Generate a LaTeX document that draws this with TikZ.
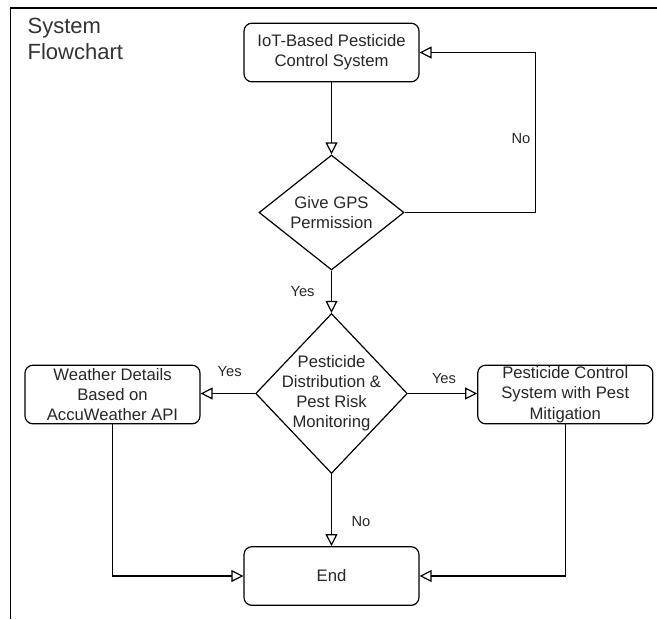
\documentclass[tikz,border=0pt]{standalone}
\usepackage{fontspec}
\setmainfont{Liberation Sans}
\usetikzlibrary{shapes.geometric,arrows.meta}
\tikzset{every picture/.style={line width=0.9pt}}

\begin{document}
\begin{tikzpicture}[x=0.75pt,y=0.75pt,yscale=-1,xscale=1,
  procbox/.style={draw, rounded corners=6pt, minimum width=131.25pt, minimum height=44pt, inner sep=0pt, align=center, font=\fontsize{12.5}{15.2}\selectfont, text=black!85},
  decision/.style={draw, diamond, inner sep=0pt, align=center, font=\fontsize{12.5}{15}\selectfont, text=black!85},
  flow/.style={-{Triangle[open,length=9pt,width=9pt]}},
  lbl/.style={font=\fontsize{11}{13}\selectfont, text=black!85}]
\useasboundingbox (0,0) rectangle (657,619);

%frame
\draw [line width=1pt] (10.5,619) -- (10.5,8) -- (657,8) ;

\draw (27,38.5) node (title) [anchor=west, inner sep=0pt, align=left, font=\fontsize{16.5}{19.5}\selectfont, text=black!80] {System\\Flowchart};

\draw (331.5,52.5) node (iot) [procbox] {IoT-Based Pesticide\\Control System};
\draw (331.5,212.5) node (gps) [decision, minimum width=108.75pt, minimum height=86.25pt] {Give GPS\\Permission};
\draw (331.5,393.5) node (dist) [decision, minimum width=113.75pt, minimum height=120pt, label={[align=center, font=\fontsize{12.5}{15}\selectfont, text=black!85]center:Pesticide\\Distribution \&\\Pest Risk\\Monitoring}] {};
\draw (112.5,394.5) node (weather) [procbox] {Weather Details\\Based on\\AccuWeather API};
\draw (565.25,394.5) node (control) [procbox] {Pesticide Control\\System with Pest\\Mitigation};
\draw (331.5,576) node (end) [procbox] {End};

\coordinate (loop) at (535.5,130);

\draw [flow] (iot) -- (gps) ;
\draw [flow] (gps.east) -| (loop) |- (iot.east) ;
\draw [flow] (gps) -- (dist) ;
\draw [flow] (dist.west) -- (dist.west -| weather.east) ;
\draw [flow] (dist.east) -- (dist.east -| control.west) ;
\draw [flow] (dist) -- (end) ;
\draw [flow] (weather) |- (end) ;
\draw [flow] (control) |- (end) ;

\draw (521,139) node (noLoop) [lbl] {No};
\draw (302.6,292) node (yesGps) [lbl] {Yes};
\draw (229.7,371.7) node (yesWeather) [lbl] {Yes};
\draw (444,379) node (yesControl) [lbl] {Yes};
\draw (361,522) node (noEnd) [lbl] {No};

\end{tikzpicture}
\end{document}
